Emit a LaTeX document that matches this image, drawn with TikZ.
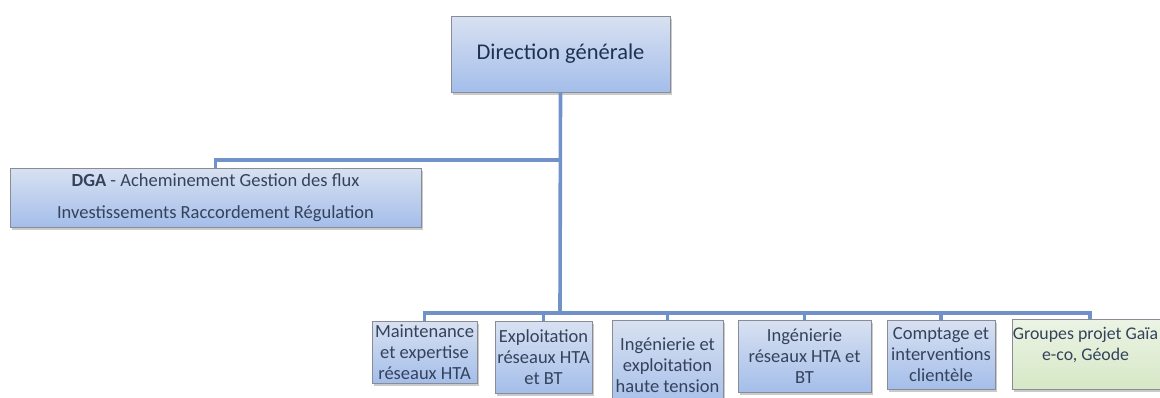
\documentclass[tikz,border=0pt]{standalone}
\usepackage{fontspec}
\setmainfont{Carlito}
\usetikzlibrary{shadows}
\definecolor{boxtop}{RGB}{216,225,241}
\definecolor{boxbot}{RGB}{164,190,234}
\definecolor{grtop}{RGB}{236,244,229}
\definecolor{grbot}{RGB}{214,232,198}
\definecolor{boxline}{RGB}{135,140,150}
\definecolor{conncol}{RGB}{112,146,200}
\definecolor{txtcol}{RGB}{52,66,92}
\definecolor{toptxt}{RGB}{30,50,82}
\tikzset{
  orgbox/.style={draw=boxline, line width=0.9pt, top color=boxtop, bottom color=boxbot,
    inner sep=0pt, align=center, text=txtcol,
    drop shadow={shadow xshift=1.5pt, shadow yshift=-2.5pt, opacity=0.35, fill=black!60}},
  greenbox/.style={orgbox, top color=grtop, bottom color=grbot},
  conn/.style={draw=conncol, line width=3.6pt},
  small/.style={font=\fontsize{18.5}{21}\selectfont}
}
\begin{document}
\begin{tikzpicture}[x=1pt,y=-1pt]
\useasboundingbox (0,0) rectangle (1160,397);
% nodes
\node[orgbox, minimum width=219pt, minimum height=76pt, text=toptxt,
  font=\fontsize{22.5}{26}\selectfont] (top) at (560.5,54) {Direction générale};
\node[orgbox, minimum width=411pt, minimum height=59pt,
  font=\fontsize{18.5}{32}\selectfont] (dga) at (215.5,197.5)
  {\textbf{DGA} - Acheminement Gestion des flux\\Investissements Raccordement Régulation};
\node[orgbox, small, minimum width=105pt, minimum height=62pt] (b1) at (424.5,352)
  {Maintenance\\et expertise\\réseaux HTA};
\node[orgbox, small, minimum width=97pt, minimum height=72pt] (b2) at (543.5,357)
  {Exploitation\\réseaux HTA\\et BT};
\node[orgbox, small, minimum width=111pt, minimum height=90pt] (b3) at (667.5,365)
  {Ingénierie et\\exploitation\\haute tension};
\node[orgbox, small, minimum width=133pt, minimum height=72pt] (b4) at (804.5,356)
  {Ingénierie\\réseaux HTA et\\BT};
\node[orgbox, small, minimum width=108pt, minimum height=69pt] (b5) at (941,354.5)
  {Comptage et\\interventions\\clientèle};
\node[greenbox, font=\fontsize{17.8}{21}\selectfont, minimum width=156pt, minimum height=70pt] (b6) at (1090,354)
  {\hspace*{-9pt}Groupes projet Gaïa\\\hspace*{-9pt}e-co, Géode\\\mbox{}};
% junctions
\coordinate (j1) at (560,160);
\coordinate (j2) at (560,313);
% connectors
\draw[conn] (top.south) -- (j2);
\draw[conn] (dga.north) |- (j1);
\draw[conn] (b1.north) |- (j2);
\draw[conn] (b2.north) |- (j2);
\draw[conn] (b3.north) |- (j2);
\draw[conn] (b4.north) |- (j2);
\draw[conn] (b5.north) |- (j2);
\draw[conn] (b6.north) |- (j2);
\end{tikzpicture}
\end{document}
